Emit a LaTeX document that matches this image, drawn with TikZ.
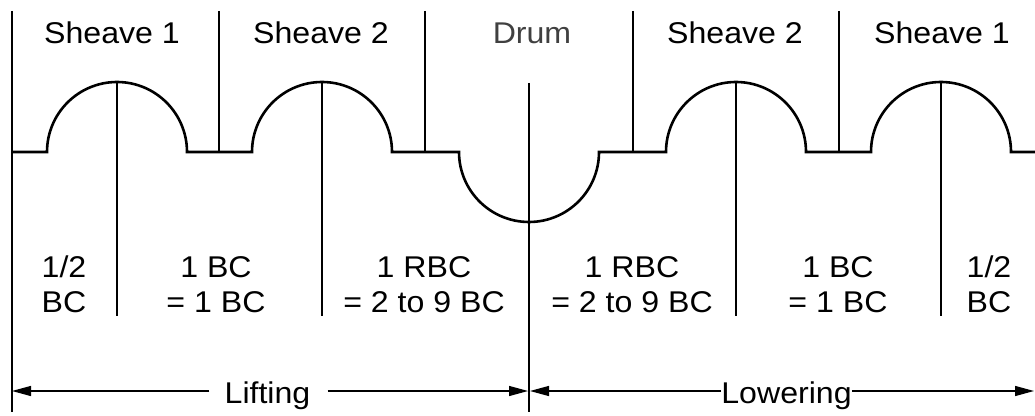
\documentclass[tikz,border=0pt]{standalone}
\usepackage{fontspec}
\newfontfamily\diagfont{Liberation Sans}[FakeStretch=1.07]
\usetikzlibrary{arrows.meta}
\definecolor{drumgray}{RGB}{64,64,64}
\tikzset{
  divider/.style={line width=1.3pt},
  profile/.style={line width=2.6pt},
  txt/.style={font=\diagfont\fontsize{30}{35}\selectfont, align=center, inner sep=0pt, anchor=base},
  span/.style={line width=1.3pt, -{Triangle[length=19pt,width=10pt]}},
}
\begin{document}
\begin{tikzpicture}[x=1pt,y=1pt]
    \useasboundingbox (0,0) rectangle (1035,415);

    \draw[profile] (12,263) -- (47,263) arc (180:0:70) -- (252,263) arc (180:0:70)
      -- (459,263) arc (180:360:70) -- (666,263) arc (180:0:70)
      -- (871,263) arc (180:0:70) -- (1035,263);

    \draw[divider] (12,404) -- (12,3);
    \draw[divider] (219,404) -- (219,263);
    \draw[divider] (425,404) -- (425,263);
    \draw[divider] (633,404) -- (633,263);
    \draw[divider] (839,404) -- (839,263);
    \draw[divider] (117,334) -- (117,99);
    \draw[divider] (322,334) -- (322,99);
    \draw[divider] (529,332) -- (529,3);
    \draw[divider] (736,334) -- (736,99);
    \draw[divider] (941,334) -- (941,99);

    \node[txt] (sheaveAl) at (112,371.5) {Sheave 1};
    \node[txt] (sheaveBl) at (321,371.5) {Sheave 2};
    \node[txt, text=drumgray] (drum) at (532,371.5) {Drum};
    \node[txt] (sheaveBr) at (735,371.5) {Sheave 2};
    \node[txt] (sheaveAr) at (942,371.5) {Sheave 1};

    \node[txt] (halfl) at (64,102) {1/2\\BC};
    \node[txt] (bcl) at (216,102) {1 BC\\= 1 BC};
    \node[txt] (rbcl) at (424,102) {1 RBC\\= 2 to 9 BC};
    \node[txt] (rbcr) at (632,102) {1 RBC\\= 2 to 9 BC};
    \node[txt] (bcr) at (838,102) {1 BC\\= 1 BC};
    \node[txt] (halfr) at (989,102) {1/2\\BC};

    \coordinate (liftL) at (12,24);
    \coordinate (liftR) at (528,24);
    \coordinate (lowL) at (530,24);
    \coordinate (lowR) at (1034,24);

    \node[txt] (lift) at (267.5,12) {Lifting};
    \node[txt] (lower) at (786.5,12) {Lowering};

    \draw[span] ([xshift=-15pt]lift.west |- liftL) -- (liftL);
    \draw[span] ([xshift=17pt]lift.east |- liftR) -- (liftR);
    \draw[span] (lower.west |- lowL) -- (lowL);
    \draw[span] (lower.east |- lowR) -- (lowR);
  \end{tikzpicture}
\end{document}
